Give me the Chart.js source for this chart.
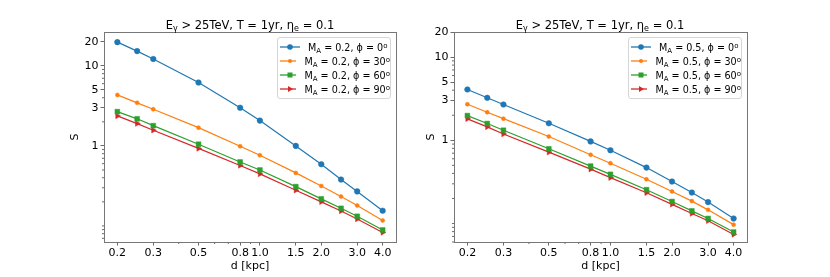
<!DOCTYPE html>
<html>
<head>
<meta charset="utf-8">
<script src="https://cdn.jsdelivr.net/npm/chart.js@4.4.1/dist/chart.umd.min.js"></script>
<style>
  body { margin: 0; background: #fff; font-family: "DejaVu Sans", sans-serif; }
  #wrap { position: relative; width: 830px; height: 277px; overflow: hidden; }
  .panel { position: absolute; top: 0; width: 415px; height: 277px; }
  .title { position: absolute; top: 18px; font-size: 11.5px; line-height: 14px; white-space: nowrap; transform: translateX(-50%); color: #000; }
  .title sub { font-size: 8px; vertical-align: -2px; line-height: 0; }
  .legend { position: absolute; top: 37px; width: 114px; height: 62px; box-sizing: border-box;
            border: 1px solid #d6d6d6; border-radius: 3px; background: rgba(255,255,255,0.85); padding-top: 2px; }
  .row { display: flex; align-items: center; height: 14px; font-size: 9.6px; white-space: nowrap; color: #000; }
  .row svg { margin-left: 2px; margin-right: 8px; }
  .row sub { font-size: 7px; vertical-align: -2px; line-height: 0; }
  .row sup { font-size: 7px; vertical-align: 3px; line-height: 0; }
</style>
</head>
<body>
<div id="wrap">
  <div class="panel" style="left:0"><canvas id="c1" width="415" height="277"></canvas></div>
  <div class="panel" style="left:415px"><canvas id="c2" width="415" height="277"></canvas></div>
  <div class="title" style="left:250px">E<sub>γ</sub> &gt; 25TeV, T = 1yr, η<sub>e</sub> = 0.1</div>
  <div class="title" style="left:600px">E<sub>γ</sub> &gt; 25TeV, T = 1yr, η<sub>e</sub> = 0.1</div>
  <div class="legend" id="leg1" style="left:277px"></div>
  <div class="legend" id="leg2" style="left:628px"></div>
</div>
<script>
// distances (kpc)
const dKpc = [0.2, 0.25, 0.3, 0.5, 0.8, 1.0, 1.5, 2.0, 2.5, 3.0, 4.0];
const phiDeg = [0, 30, 60, 90];

// left panel, M_A = 0.2
const sMA02phi0  = [19.8, 15.3, 12.2, 6.2, 3.0, 2.07, 1.0, 0.59, 0.38, 0.27, 0.155];
const sMA02phi30 = [4.34, 3.45, 2.87, 1.69, 0.99, 0.765, 0.46, 0.316, 0.233, 0.18, 0.117];
const sMA02phi60 = [2.68, 2.18, 1.79, 1.05, 0.63, 0.50, 0.31, 0.218, 0.166, 0.132, 0.089];
const sMA02phi90 = [2.37, 1.90, 1.57, 0.93, 0.57, 0.447, 0.279, 0.20, 0.154, 0.122, 0.083];

// right panel, M_A = 0.5
const sMA05phi0  = [4.08, 3.24, 2.69, 1.60, 0.97, 0.76, 0.47, 0.32, 0.236, 0.181, 0.115];
const sMA05phi30 = [2.71, 2.17, 1.82, 1.11, 0.67, 0.53, 0.34, 0.243, 0.186, 0.146, 0.097];
const sMA05phi60 = [1.98, 1.59, 1.32, 0.79, 0.49, 0.39, 0.255, 0.184, 0.142, 0.115, 0.079];
const sMA05phi90 = [1.81, 1.45, 1.19, 0.72, 0.45, 0.356, 0.234, 0.17, 0.132, 0.108, 0.074];

// ticks
const xMajor = [0.2, 0.3, 0.5, 0.8, 1.0, 1.5, 2.0, 3.0, 4.0];
const xMinor = [0.4, 0.6, 0.7, 0.9];
const yMajor = [1, 3, 5, 10, 20];
const yMinor = [0.06, 0.07, 0.08, 0.09, 0.1, 0.2, 0.3, 0.4, 0.5, 0.6, 0.7, 0.8, 0.9, 2, 4, 6, 7, 8, 9];

const colors = ['#1f77b4', '#ff7f0e', '#2ca02c', '#d62728'];
const marks = [
  { style: 'circle', r: 2.8 },
  { style: 'circle', r: 2.0 },
  { style: 'rect', r: 3.4 },
  { style: 'triangle', r: 3.2, rot: 90 }
];

// minor ticks + frame, drawn through the chart's scales
const frameAndMinor = {
  id: 'frameAndMinor',
  afterDraw(chart) {
    const ctx = chart.ctx, a = chart.chartArea;
    const xs = chart.scales.x, ys = chart.scales.y;
    ctx.save();
    ctx.strokeStyle = '#444';
    ctx.lineWidth = 0.8;
    ctx.beginPath();
    xMinor.forEach(v => {
      const px = xs.getPixelForValue(v);
      if (px < a.left || px > a.right) return;
      ctx.moveTo(px, a.bottom); ctx.lineTo(px, a.bottom + 2);
    });
    yMinor.forEach(v => {
      const py = ys.getPixelForValue(v);
      if (py < a.top || py > a.bottom) return;
      ctx.moveTo(a.left, py); ctx.lineTo(a.left - 2, py);
    });
    ctx.stroke();
    ctx.strokeStyle = '#777';
    ctx.lineWidth = 1;
    ctx.strokeRect(Math.round(a.left) + 0.5, Math.round(a.top) + 0.5,
                   Math.round(a.right - a.left), Math.round(a.bottom - a.top));
    ctx.restore();
  }
};

function makeChart(id, ma, series, opts) {
  const datasets = series.map((s, i) => ({
    label: 'M_A = ' + ma + ', \u03d5 = ' + phiDeg[i] + '\u00b0',
    data: s.map((v, j) => ({ x: dKpc[j], y: v })),
    borderColor: colors[i],
    backgroundColor: colors[i],
    borderWidth: 1.2,
    pointStyle: marks[i].style,
    pointRadius: marks[i].r,
    pointRotation: marks[i].rot || 0,
    pointBorderWidth: 0.5,
    pointHoverRadius: marks[i].r,
    tension: 0
  }));

  const tickFont = { family: 'DejaVu Sans', size: 11 };
  const chart = new Chart(document.getElementById(id), {
    type: 'line',
    data: { datasets: datasets },
    options: {
      responsive: false,
      animation: false,
      layout: { padding: { left: opts.padLeft, top: 32, right: opts.padRight, bottom: 0 } },
      plugins: { legend: { display: false }, tooltip: { enabled: false } },
      scales: {
        x: {
          type: 'logarithmic',
          min: 0.172, max: 4.65,
          afterBuildTicks: s => { s.ticks = xMajor.map(v => ({ value: v })); },
          afterFit: s => { s.height = 35; },
          ticks: { autoSkip: false, maxRotation: 0, padding: 1, color: '#000', font: tickFont,
                   callback: v => Number(v).toFixed(1) },
          grid: { drawOnChartArea: false, drawTicks: true, tickLength: 3.5, color: '#444', lineWidth: 0.8 },
          border: { display: false },
          title: { display: true, text: 'd [kpc]', color: '#000', font: tickFont, padding: { top: 0, bottom: 4 } }
        },
        y: {
          type: 'logarithmic',
          min: opts.yMin, max: opts.yMax,
          afterBuildTicks: s => { s.ticks = yMajor.map(v => ({ value: v })); },
          afterFit: s => { s.width = opts.yWidth; },
          ticks: { autoSkip: false, padding: 2, color: '#000', font: tickFont,
                   callback: v => String(v) },
          grid: { drawOnChartArea: false, drawTicks: true, tickLength: 3.5, color: '#444', lineWidth: 0.8 },
          border: { display: false },
          title: { display: true, text: 'S', color: '#000', font: tickFont, padding: { top: 1, bottom: 0 } }
        }
      }
    },
    plugins: [frameAndMinor]
  });
  return chart;
}

function markerSvg(ds) {
  const c = ds.borderColor;
  let m = '';
  if (ds.pointStyle === 'circle') {
    m = '<circle cx="10" cy="7" r="' + ds.pointRadius + '" fill="' + c + '"/>';
  } else if (ds.pointStyle === 'rect') {
    m = '<rect x="7.5" y="4.5" width="5" height="5" fill="' + c + '"/>';
  } else {
    m = '<polygon points="13,7 8,4 8,10" fill="' + c + '"/>';
  }
  return '<svg width="20" height="14"><line x1="0" y1="7" x2="20" y2="7" stroke="' + c +
         '" stroke-width="1.3"/>' + m + '</svg>';
}

function buildLegend(chart, el, ma) {
  el.innerHTML = chart.data.datasets.map((ds, i) =>
    '<div class="row">' + markerSvg(ds) +
    '<span>M<sub>A</sub> = ' + ma + ', \u03d5 = ' + phiDeg[i] + '<sup>o</sup></span></div>'
  ).join('');
}

const chart1 = makeChart('c1', '0.2', [sMA02phi0, sMA02phi30, sMA02phi60, sMA02phi90],
  { padLeft: 68, padRight: 19, yWidth: 36, yMin: 0.063, yMax: 26.5 });
const chart2 = makeChart('c2', '0.5', [sMA05phi0, sMA05phi30, sMA05phi60, sMA05phi90],
  { padLeft: 9, padRight: 83, yWidth: 30, yMin: 0.06, yMax: 20 });

buildLegend(chart1, document.getElementById('leg1'), '0.2');
buildLegend(chart2, document.getElementById('leg2'), '0.5');
</script>
</body>
</html>
